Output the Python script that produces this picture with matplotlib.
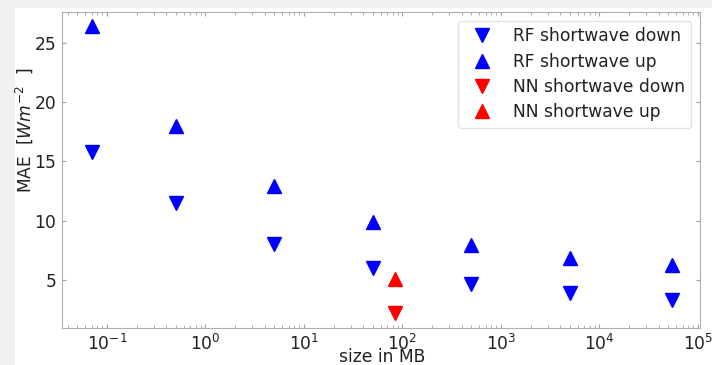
import matplotlib
matplotlib.use("Agg")
import matplotlib.pyplot as plt
from matplotlib.patches import Rectangle

# model sizes in MB
rf_size = [0.07, 0.5, 5, 50, 500, 5000, 54000]
rf_down = [15.8, 11.5, 8.0, 6.0, 4.66, 3.87, 3.3]
rf_up = [26.4, 18.0, 12.9, 9.9, 7.97, 6.84, 6.27]

nn_size = [85]
nn_down = [2.18]
nn_up = [5.05]

labels = ['RF shortwave down', 'RF shortwave up',
          'NN shortwave down', 'NN shortwave up']


def main():
    plt.rcParams['font.family'] = 'DejaVu Sans'
    plt.rcParams['font.size'] = 12.3
    plt.rcParams['mathtext.fontset'] = 'dejavusans'

    fig = plt.figure(figsize=(7.12, 3.65), dpi=100)
    fig.set_facecolor('#f0f0f0')
    # white card (screenshot margin)
    fig.patches.append(Rectangle((15 / 712, 0), 1, 1 - 8 / 365,
                                 transform=fig.transFigure,
                                 facecolor='white', edgecolor='none', zorder=-10))

    ax = fig.add_axes([62 / 712, 1 - 328 / 365, 638 / 712, 316 / 365])
    ax.set_facecolor('white')

    ax.plot(rf_size, rf_down, 'v', color='blue', ms=10, ls='none', label=labels[0])
    ax.plot(rf_size, rf_up, '^', color='blue', ms=10, ls='none', label=labels[1])
    ax.plot(nn_size, nn_down, 'v', color='red', ms=10, ls='none', label=labels[2])
    ax.plot(nn_size, nn_up, '^', color='red', ms=10, ls='none', label=labels[3])

    ax.set_xscale('log')
    ax.set_xlim(0.035, 1.05e5)
    ax.set_ylim(0.95, 27.6)
    ax.set_yticks([5, 10, 15, 20, 25])

    for s in ax.spines.values():
        s.set_color('#b0b0b0')
    ax.tick_params(which='both', direction='in', top=True, right=True,
                   color='#a0a0a0', labelcolor='#222222')
    ax.tick_params(which='major', length=3, pad=4)
    ax.tick_params(which='minor', length=2)

    ax.set_xlabel('size in MB', color='#222222')
    ax.xaxis.set_label_coords(0.502, -0.063)
    ax.set_ylabel(r'MAE  [$Wm^{-2}$  ]', color='#222222')
    ax.yaxis.set_label_coords(-0.042, 0.625)

    leg = ax.legend(loc='upper right', fontsize=12.3, framealpha=0.8,
                    edgecolor='#dddddd', borderpad=0.4, handletextpad=0.8,
                    labelspacing=0.42, borderaxespad=0.5)
    for t in leg.get_texts():
        t.set_color('#222222')

    fig.savefig('out.png', dpi=100, facecolor=fig.get_facecolor())


if __name__ == "__main__":
    main()
